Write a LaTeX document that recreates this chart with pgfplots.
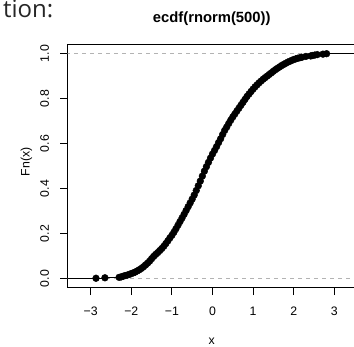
\documentclass[border=0pt]{standalone}
\usepackage{pgfplots}
\usepackage{pgfplotstable}
\pgfplotsset{compat=1.18}
\usepackage{fontspec}
\setmainfont{Liberation Sans}
\newfontfamily\opensans{Open Sans}
\definecolor{gray70}{gray}{0.702}

\pgfplotstableread{
x y
-2.87 0.002
-2.65 0.004
-2.30 0.006
-2.25 0.008
-2.20 0.011
-2.15 0.014
-2.10 0.016
-2.05 0.019
-2.00 0.023
-1.95 0.026
-1.90 0.030
-1.85 0.035
-1.80 0.040
-1.75 0.046
-1.70 0.053
-1.65 0.061
-1.60 0.069
-1.55 0.078
-1.50 0.089
-1.45 0.099
-1.40 0.108
-1.35 0.116
-1.30 0.125
-1.25 0.134
-1.20 0.144
-1.15 0.156
-1.10 0.168
-1.05 0.181
-1.00 0.193
-0.95 0.207
-0.90 0.222
-0.85 0.238
-0.80 0.254
-0.75 0.270
-0.70 0.286
-0.65 0.303
-0.60 0.320
-0.55 0.337
-0.50 0.354
-0.45 0.372
-0.40 0.392
-0.35 0.413
-0.30 0.434
-0.25 0.456
-0.20 0.478
-0.15 0.498
-0.10 0.517
-0.05 0.536
0.00 0.554
0.05 0.570
0.10 0.587
0.15 0.605
0.20 0.622
0.25 0.641
0.30 0.659
0.35 0.674
0.40 0.690
0.45 0.705
0.50 0.719
0.55 0.732
0.60 0.745
0.65 0.758
0.70 0.771
0.75 0.784
0.80 0.797
0.85 0.810
0.90 0.821
0.95 0.832
1.00 0.843
1.05 0.853
1.10 0.862
1.15 0.871
1.20 0.879
1.25 0.887
1.30 0.894
1.35 0.901
1.40 0.908
1.45 0.915
1.50 0.922
1.55 0.929
1.60 0.935
1.65 0.941
1.70 0.947
1.75 0.952
1.80 0.957
1.85 0.962
1.90 0.966
1.95 0.970
2.00 0.974
2.05 0.977
2.10 0.980
2.15 0.982
2.20 0.984
2.30 0.988
2.42 0.990
2.46 0.992
2.52 0.994
2.58 0.996
2.72 0.998
2.81 1.000
}\ecdfdata

\begin{document}
\begin{tikzpicture}[x=1pt,y=1pt]
\begin{axis}[
  at={(67.7pt,-287.7pt)}, anchor=south west,
  width=288.1pt, height=243pt, scale only axis,
  xmin=-3.567, xmax=3.53, ymin=-0.04, ymax=1.04,
  xtick={-3,-2,-1,0,1,2,3},
  xticklabels={−3,−2,−1,0,1,2,3},
  ytick={0,0.2,0.4,0.6,0.8,1},
  yticklabels={0.0,0.2,0.4,0.6,0.8,1.0},
  tick align=outside, major tick length=7.5pt,
  xtick pos=bottom, ytick pos=left,
  axis line style={black, line width=0.9pt},
  every tick/.style={black, line width=0.9pt},
  tick label style={font=\fontsize{12.3}{14}\selectfont},
  xticklabel style={anchor=base, yshift=-20.5pt},
  yticklabel style={anchor=base, xshift=-11.2pt, rotate=90},
  clip=true,
]
\addplot[gray70, line width=0.8pt, dash pattern=on 4pt off 4pt, forget plot] coordinates {(-4,0) (4,0)};
\addplot[gray70, line width=0.8pt, dash pattern=on 4pt off 4pt, forget plot] coordinates {(-4,1) (4,1)};
\addplot[black, line width=0.8pt, forget plot] coordinates {(-4,0) (-2.87,0)};
\addplot[black, line width=0.8pt, forget plot] coordinates {(2.81,1) (4,1)};
\addplot[black, line width=0.8pt, jump mark left, forget plot] table[x=x,y=y] {\ecdfdata};
\addplot[black, only marks, mark=*, mark size=3.4pt, forget plot] table[x=x,y=y] {\ecdfdata};
\end{axis}
\node[anchor=base west, inner sep=0pt, font=\opensans\fontsize{24}{28}\selectfont, text=black!85] at (3pt,-17.3pt) {tion:};
\node[anchor=base, inner sep=0pt, font=\bfseries\fontsize{14.8}{17}\selectfont] at (211.7pt,-22.7pt) {ecdf(rnorm(500))};
\node[anchor=base, inner sep=0pt, font=\fontsize{12.3}{14}\selectfont] at (211.7pt,-344.5pt) {x};
\node[anchor=base, inner sep=0pt, rotate=90, font=\fontsize{12.3}{14}\selectfont] at (29.5pt,-162pt) {Fn(x)};
\pgfresetboundingbox
\useasboundingbox (0pt,0pt) rectangle (354pt,-346pt);
\end{tikzpicture}
\end{document}
